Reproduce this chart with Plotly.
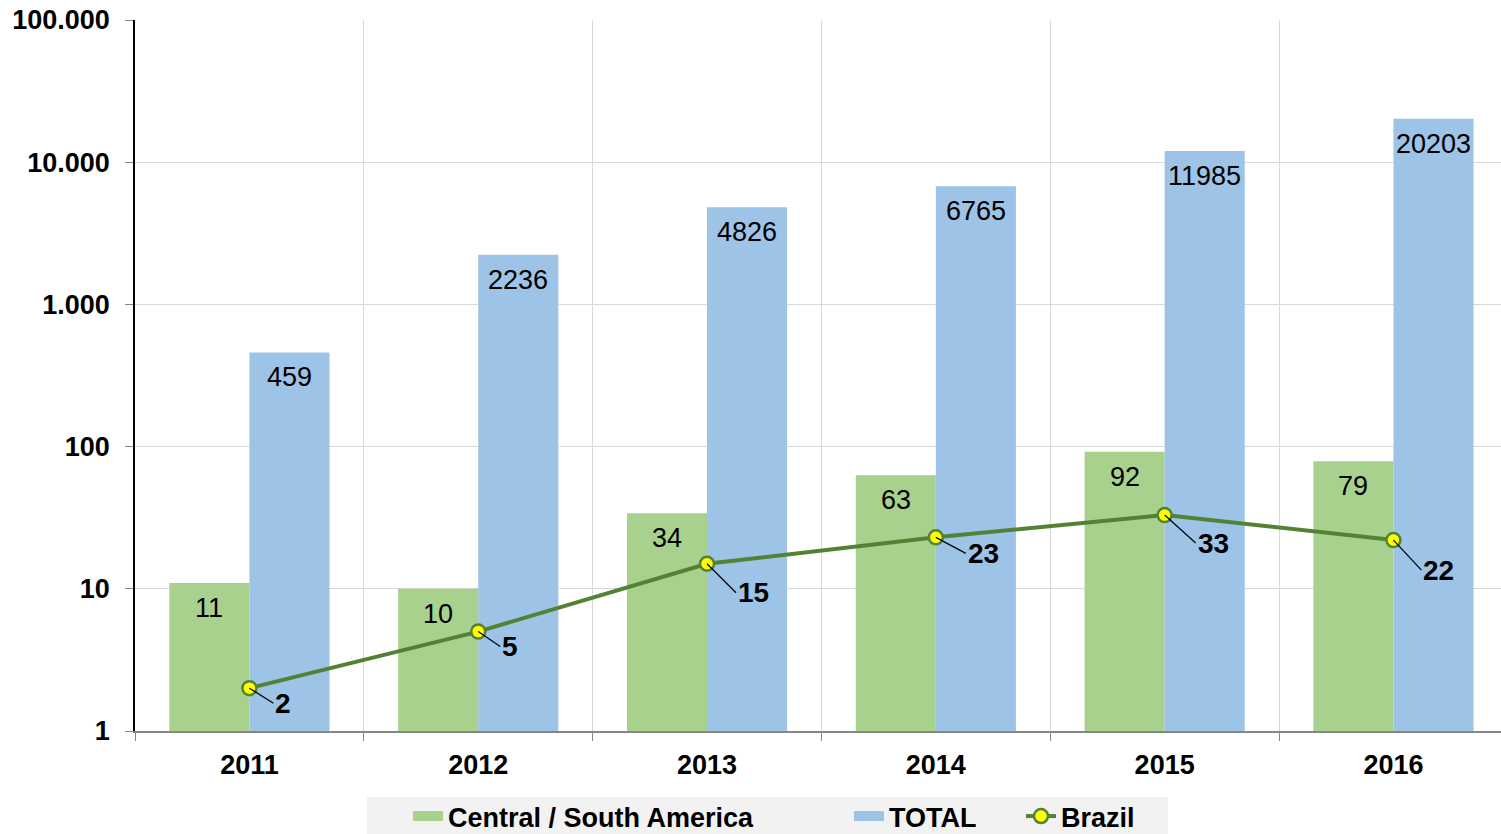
import math
import plotly.graph_objects as go

years = ["2011", "2012", "2013", "2014", "2015", "2016"]
central_south_america = [11, 10, 34, 63, 92, 79]
total = [459, 2236, 4826, 6765, 11985, 20203]
brazil = [2, 5, 15, 23, 33, 22]
y_tick_values = [1, 10, 100, 1000, 10000, 100000]
y_tick_labels = ["1", "10", "100", "1.000", "10.000", "100.000"]

# pixel offsets of the Brazil data labels (style only)
brazil_label_dx = [24, 22, 29, 30, 31, 28]
brazil_label_dy = [15, 15, 29, 16, 28, 30]

GREEN = "#a9d18e"
BLUE = "#9dc3e6"
LINE = "#548235"
FONT = "Liberation Sans"

# page body margin is removed after load, so the figure sits at the top-left corner
W, H = 1501, 854
ML, MR, MT, MB = 135, 0, 20, 123
PW, PH = W - ML - MR, H - MT - MB


def px_to_paper_x(px):
    return (px - ML) / PW


def px_to_paper_y(py):
    return (H - MB - py) / PH


xs = list(range(len(years)))
bar_half = 0.35 / 2

fig = go.Figure()
fig.add_trace(go.Bar(x=xs, y=central_south_america, name="Central / South America",
                     marker=dict(color=GREEN, line=dict(width=0)), showlegend=False))
fig.add_trace(go.Bar(x=xs, y=total, name="TOTAL",
                     marker=dict(color=BLUE, line=dict(width=0)), showlegend=False))
fig.add_trace(go.Scatter(x=xs, y=brazil, name="Brazil", mode="lines+markers",
                         line=dict(color=LINE, width=4),
                         marker=dict(size=14, color="#ffff00",
                                     line=dict(color=LINE, width=2.5)),
                         legend="legend3"))
# legend-only entries drawn as wide rectangles for the bar series
fig.add_trace(go.Scatter(x=[None], y=[None], name="Central / South America", mode="lines",
                         line=dict(color=GREEN, width=16), legend="legend"))
fig.add_trace(go.Scatter(x=[None], y=[None], name="TOTAL", mode="lines",
                         line=dict(color=BLUE, width=16), legend="legend2"))

annotations = []
for i, v in enumerate(central_south_america):
    annotations.append(dict(x=i - bar_half, y=math.log10(v), xref="x", yref="y",
                            text=str(v), showarrow=False, yanchor="middle", yshift=-25,
                            font=dict(family=FONT, size=27, color="black")))
for i, v in enumerate(total):
    annotations.append(dict(x=i + bar_half, y=math.log10(v), xref="x", yref="y",
                            text=str(v), showarrow=False, yanchor="middle", yshift=-25,
                            font=dict(family=FONT, size=27, color="black")))
for i, v in enumerate(brazil):
    annotations.append(dict(x=i, y=math.log10(v), xref="x", yref="y",
                            text=str(v), showarrow=True, arrowhead=0, arrowwidth=1.2,
                            arrowcolor="black", ax=brazil_label_dx[i], ay=brazil_label_dy[i],
                            xanchor="left", yanchor="middle", standoff=0,
                            font=dict(family=FONT, size=28, color="black", weight="bold")))

legend_font = dict(family=FONT, size=27, color="black", weight="bold")
legend_y = px_to_paper_y(792)


def legend_at(text_left_px):
    return dict(orientation="h", x=px_to_paper_x(text_left_px - 42), xanchor="left",
                y=legend_y, yanchor="top", bgcolor="rgba(0,0,0,0)",
                font=legend_font, itemwidth=30)


fig.update_layout(
    width=W, height=H,
    margin=dict(l=ML, r=MR, t=MT, b=MB),
    paper_bgcolor="white", plot_bgcolor="white",
    barmode="group", bargap=0.3, bargroupgap=0,
    annotations=annotations,
    showlegend=True,
    legend=legend_at(450),
    legend2=legend_at(891),
    legend3=legend_at(1063),
    shapes=[dict(type="rect", xref="paper", yref="paper",
                 x0=px_to_paper_x(367), x1=px_to_paper_x(1168),
                 y0=px_to_paper_y(834), y1=px_to_paper_y(797),
                 fillcolor="#f2f2f2", line=dict(width=0), layer="below")],
    xaxis=dict(range=[-0.5, 5.47], tickmode="array", tickvals=xs, ticktext=years,
               showgrid=False, ticks="", showline=True, linecolor="#868686", linewidth=1.5,
               tickfont=dict(family=FONT, size=27, color="black", weight="bold"),
               ticklabelstandoff=9,
               minor=dict(tickmode="linear", tick0=-0.5, dtick=1, showgrid=True,
                          gridcolor="#d9d9d9", gridwidth=1, ticks="outside",
                          ticklen=8, tickcolor="#868686", tickwidth=1),
               zeroline=False, automargin=False),
    yaxis=dict(type="log", range=[0, 5], tickmode="array", tickvals=y_tick_values,
               ticktext=y_tick_labels, showgrid=True, gridcolor="#d9d9d9", gridwidth=1,
               ticks="outside", ticklen=8, tickcolor="#868686", showline=True,
               linecolor="black", linewidth=1.5, ticklabeloverflow="allow",
               ticklabelstandoff=10,
               tickfont=dict(family=FONT, size=27, color="black", weight="bold"),
               zeroline=False, automargin=False),
)

fig.write_html("out.html", config={"displayModeBar": False},
               post_script="document.body.style.margin = '0px';")
